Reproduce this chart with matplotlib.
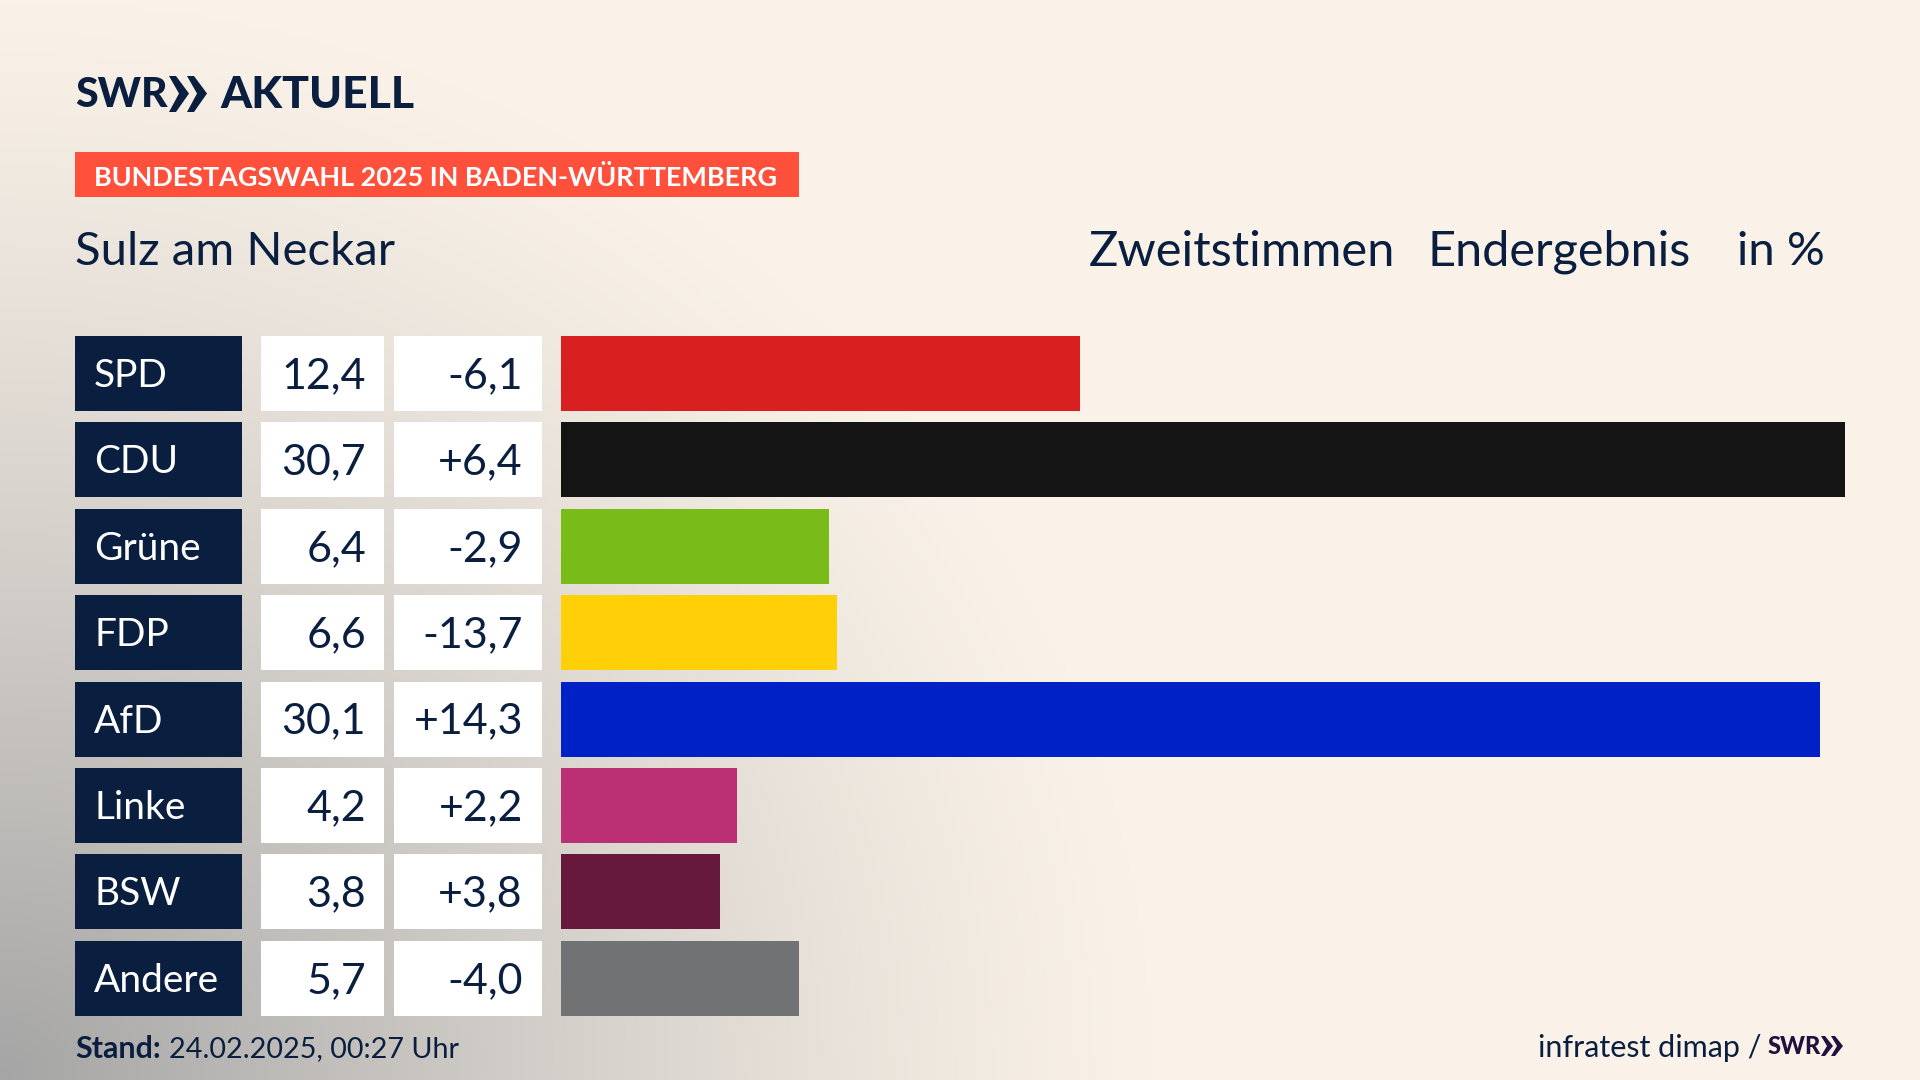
import numpy as np
import matplotlib
matplotlib.use('Agg')
import matplotlib.pyplot as plt
from matplotlib.patches import Polygon, Rectangle

parties = ['SPD', 'CDU', 'Grüne', 'FDP', 'AfD', 'Linke', 'BSW', 'Andere']
values = [12.4, 30.7, 6.4, 6.6, 30.1, 4.2, 3.8, 5.7]
value_labels = ['12,4', '30,7', '6,4', '6,6', '30,1', '4,2', '3,8', '5,7']
diff_labels = ['-6,1', '+6,4', '-2,9', '-13,7', '+14,3', '+2,2', '+3,8', '-4,0']
colors = ['#D7201F', '#141414', '#79BC19', '#FFCF07', '#0021C6', '#BB3075', '#67183D', '#717274']

NAVY = '#0A1F3F'
CREAM = np.array([250, 242, 232]) / 255
GREY = np.array([165, 165, 165]) / 255
FONT = 'Lato'

plt.rcParams['font.family'] = [FONT, 'DejaVu Sans']

fig = plt.figure(figsize=(19.2, 10.8), dpi=100)

# background, grey haze from the lower left corner
bg = fig.add_axes([0, 0, 1, 1], zorder=0)
yy, xx = np.mgrid[0:1080:270j, 0:1920:480j]
d = np.sqrt((xx / 1150) ** 2 + ((1080 - yy) / 1080) ** 2)
t = np.clip(1 - d, 0, 1)[..., None] ** 1.2
bg.imshow(CREAM * (1 - t) + GREY * t, extent=(0, 1920, 1080, 0), aspect='auto', interpolation='bilinear')
bg.axis('off')

# everything else in pixel coords
ax = fig.add_axes([0, 0, 1, 1], zorder=1)
ax.set_xlim(0, 1920)
ax.set_ylim(1080, 0)
ax.axis('off')

# logo
ax.text(75, 95, 'SWR', fontsize=29.5, fontweight='black', color=NAVY, va='center', ha='left')
for x0 in (169, 187):
    ax.add_patch(Polygon([(x0, 76), (x0 + 7, 76), (x0 + 20, 93.5), (x0 + 7, 112), (x0, 112), (x0 + 10, 93.5)], color=NAVY, lw=0))
ax.text(220, 95, 'AKTUELL', fontsize=32, fontweight='black', color=NAVY, va='center', ha='left')

# banner
ax.add_patch(Rectangle((75, 152), 724, 45, color='#FF503C', lw=0))
ax.text(94, 177, 'BUNDESTAGSWAHL 2025 IN BADEN-WÜRTTEMBERG', fontsize=19.45, fontweight='bold',
        color='white', va='center', ha='left')

# header
ax.text(75, 252, 'Sulz am Neckar', fontsize=34, color=NAVY, va='center', ha='left')
ax.text(1089, 252, 'Zweitstimmen', fontsize=35.2, color=NAVY, va='center', ha='left')
ax.text(1428, 252, 'Endergebnis', fontsize=35, color=NAVY, va='center', ha='left')
ax.text(1825, 252, 'in %', fontsize=34, color=NAVY, va='center', ha='right')

# footer
ax.text(75, 1049, 'Stand:', fontsize=22, fontweight='bold', color=NAVY, va='center', ha='left')
ax.text(169, 1049, '24.02.2025, 00:27 Uhr', fontsize=20.7, color=NAVY, va='center', ha='left')
ax.text(1761, 1048, 'infratest dimap /', fontsize=22, color=NAVY, va='center', ha='right')
ax.text(1768, 1047, 'SWR', fontsize=17, fontweight='black', color='#22103F', va='center', ha='left')
for x0 in (1821, 1831):
    ax.add_patch(Polygon([(x0, 1036), (x0 + 4, 1036), (x0 + 12, 1046), (x0 + 4, 1056), (x0, 1056), (x0 + 6, 1046)], color='#22103F', lw=0))

# table columns and bars share the same row axis
top = 330.3
bottom = 1021.5
y_pos = np.arange(len(parties))
tab = fig.add_axes([0, 1 - bottom / 1080, 1, (bottom - top) / 1080], zorder=2)
tab.set_xlim(0, 1920)
tab.set_ylim(7.5, -0.5)
tab.axis('off')
tab.barh(y_pos, 167, left=75, height=0.866, color=NAVY)
tab.barh(y_pos, 123, left=261, height=0.866, color='white')
tab.barh(y_pos, 148, left=394, height=0.866, color='white')
for i, y in enumerate(y_pos):
    tab.text(94, y + 0.03, parties[i], fontsize=28, color='white', va='center', ha='left')
    tab.text(366, y + 0.03, value_labels[i], fontsize=31, color=NAVY, va='center', ha='right')
    tab.text(523, y + 0.03, diff_labels[i], fontsize=31, color=NAVY, va='center', ha='right')

bars = fig.add_axes([561 / 1920, 1 - bottom / 1080, (1845 - 561) / 1920, (bottom - top) / 1080], zorder=3)
bars.patch.set_alpha(0)
bars.barh(y_pos, values, height=0.866, color=colors)
bars.set_xlim(0, 30.7)
bars.set_ylim(7.5, -0.5)
bars.axis('off')

fig.savefig('out.png', dpi=100)
